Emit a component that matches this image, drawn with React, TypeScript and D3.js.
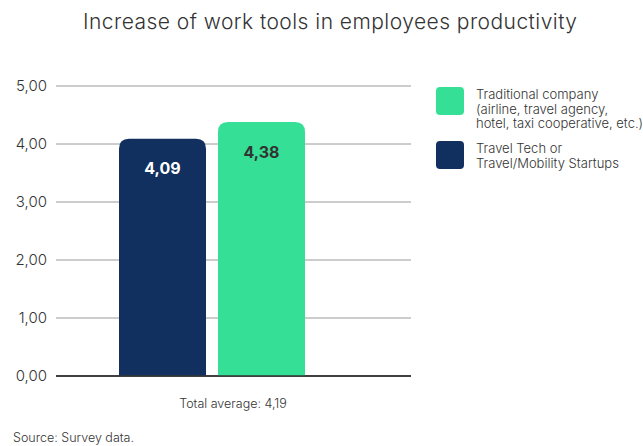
import React from "react";
import * as d3 from "d3";

const seriesNames = ["Travel Tech or Travel/Mobility Startups", "Traditional company"];
const seriesValues = [4.09, 4.38];
const seriesColors = ["#11305f", "#35e096"];
const labelColors = ["#ffffff", "#333333"];
const yTicks = [0, 1, 2, 3, 4, 5];
const legendItems = [
  { color: "#35e096", lines: ["Traditional company", "(airline, travel agency,", "hotel, taxi cooperative, etc.)"] },
  { color: "#11305f", lines: ["Travel Tech or", "Travel/Mobility Startups"] },
];
const fmt = (v: number, d: number) => v.toFixed(d).replace(".", ",");

const FONT = "Inter, 'Open Sans', sans-serif";

function topRounded(x: number, y: number, w: number, h: number, r: number) {
  return `M${x},${y + h}V${y + r}Q${x},${y} ${x + r},${y}H${x + w - r}Q${x + w},${y} ${x + w},${y + r}V${y + h}Z`;
}

export default function App() {
  const W = 643, H = 446;
  const y = d3.scaleLinear().domain([0, 5]).range([376, 86]);
  const x = d3.scaleBand<string>().domain(seriesNames).range([119, 305]).paddingInner(0.121).paddingOuter(0);
  const left = 56, right = 411;
  return (
    <svg width={W} height={H} style={{ position: "absolute", left: 0, top: 0, background: "#fff" }} fontFamily={FONT}>
      <text x={330} y={29} textAnchor="middle" fontSize={21} fontWeight={300} fill="#333" textLength={494} lengthAdjust="spacing">
        Increase of work tools in employees productivity
      </text>
      {yTicks.map((t) => (
        <g key={t}>
          <line x1={left} x2={right} y1={y(t)} y2={y(t)} stroke={t === 0 ? "#333" : "#9a9a9a"} strokeWidth={t === 0 ? 1.5 : 1} />
          <text x={47} y={y(t)} dy="0.35em" textAnchor="end" fontSize={15} fontWeight={300} fill="#333">
            {fmt(t, 2)}
          </text>
        </g>
      ))}
      {seriesNames.map((s, i) => {
        const bx = x(s)!;
        const bw = x.bandwidth();
        const by = y(seriesValues[i]);
        return (
          <g key={s}>
            <path d={topRounded(bx, by, bw, y(0) - by, 10)} fill={seriesColors[i]} />
            <text x={bx + bw / 2} y={by + 30} dy="0.35em" textAnchor="middle" fontSize={16} fontWeight={700} fill={labelColors[i]}>
              {fmt(seriesValues[i], 2)}
            </text>
          </g>
        );
      })}
      <line x1={left} x2={right} y1={y(0)} y2={y(0)} stroke="#333" strokeWidth={1.5} />
      <text x={233} y={408} textAnchor="middle" fontSize={12.5} fontWeight={300} fill="#333">
        Total average: 4,19
      </text>
      <text x={13} y={442} fontSize={12.5} fontWeight={300} fill="#333">
        Source: Survey data.
      </text>
      {legendItems.map((it, i) => {
        const ly = i === 0 ? 87 : 141;
        return (
          <g key={i}>
            <rect x={436} y={ly} width={28} height={28} rx={4} fill={it.color} />
            {it.lines.map((l, j) => (
              <text key={j} x={476} y={ly + 12 + j * 14.5} fontSize={13} fontWeight={300} fill="#333">
                {l}
              </text>
            ))}
          </g>
        );
      })}
    </svg>
  );
}
